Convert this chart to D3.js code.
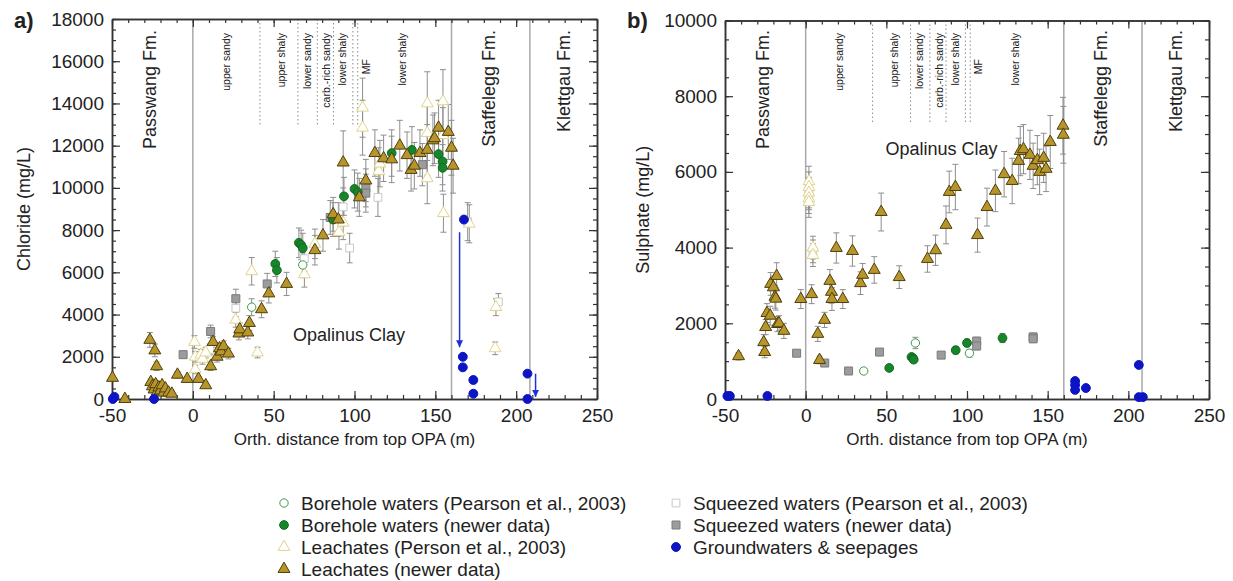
<!DOCTYPE html>
<html>
<head>
<meta charset="utf-8">
<script src="https://cdn.jsdelivr.net/npm/d3@7"></script>
<style>
  body { margin: 0; background: #fff; }
  text { font-family: Arial, "Liberation Sans", sans-serif; fill: #222; }
</style>
</head>
<body>
<svg id="chart" width="1233" height="581"></svg>
<script>
// ---- shared x layout (orth. distance from top OPA, m) ----
const xMajor = [-50, 0, 50, 100, 150, 200, 250]
const formationLines = [0, 160, 208.5]
const subUnitLines = [41.5, 65, 77, 87, 99, 102]
const subUnitLabels = ['upper sandy', 'upper shaly', 'lower sandy', 'carb.-rich sandy', 'lower shaly', 'MF', 'lower shaly']
const subUnitLabelX = [23, 57, 73, 85, 95, 109.5, 132]
const formationNames = ['Passwang Fm.', 'Staffelegg Fm.', 'Klettgau Fm.']
const formationNameX = [-23, 187, 233]

// ---- a) chloride, points as [x, value, error] ----
const chlLeachNew = [
  [-49.7, 1000, 0], [-42, 0, 0], [-26.6, 2800, 350], [-23.5, 2300, 300], [-22.4, 1550, 200],
  [-26, 800, 150], [-25, 600, 100], [-24, 450, 100], [-23, 700, 100], [-22, 350, 100],
  [-21, 550, 100], [-20, 400, 80], [-19, 650, 100], [-18, 300, 80], [-17, 500, 80],
  [-15, 300, 80], [-13, 250, 60], [-9.5, 1150, 150], [-3.5, 950, 100], [3.5, 950, 120],
  [8, 650, 100], [11, 1550, 200], [12.5, 2700, 250], [15, 2000, 250], [16.5, 2400, 250],
  [17.5, 2250, 250], [19, 2500, 250], [22, 2150, 250], [28.5, 3100, 300], [29, 3300, 300],
  [34, 3150, 300], [35, 3600, 350], [42.5, 4250, 400], [47, 5000, 450], [58, 5450, 550],
  [75.5, 7050, 700], [80.5, 7750, 750], [86.8, 8750, 800], [90, 8500, 800], [93, 11200, 1500],
  [103, 9550, 900], [107, 10350, 1000], [112.6, 11650, 1100], [118, 11400, 1100], [123, 11350, 1100],
  [128, 12000, 1200], [132.5, 11550, 1100], [135, 10850, 1000], [137, 11050, 1100], [140.5, 11650, 1100],
  [145, 11800, 1200], [148.5, 12250, 1200], [149.5, 12350, 1200], [152, 12850, 1300], [158, 12650, 1300],
  [160, 11900, 1300], [161, 11050, 1300]
]
const chlLeachOld = [
  [1, 2700, 300], [1.5, 2000, 250], [1.5, 1400, 200], [5, 2100, 250], [6, 1900, 250], [8, 2200, 250],
  [26.5, 3750, 350], [36.4, 6050, 650], [40, 2200, 250], [69, 5900, 600], [75.5, 7350, 700],
  [90.4, 7900, 800], [93, 8350, 800], [105, 13800, 1400], [105, 12850, 1300], [115, 10800, 1100],
  [115.7, 11150, 1100], [145, 14000, 1500], [145, 12600, 1300], [145, 10450, 1200], [154.7, 14100, 1500],
  [154.7, 12500, 1300], [155, 8800, 900], [171, 8300, 900], [187.5, 4350, 400], [187, 2400, 300]
]
const chlBoreOld = [[36.4, 4350, 400], [68, 6350, 600]]
const chlBoreNew = [
  [51, 6400, 600], [52, 6100, 600], [65.6, 7400, 700], [67, 7300, 700], [68, 7150, 700],
  [86.7, 8500, 800], [93.5, 9600, 900], [100, 9950, 900], [102, 9800, 900], [123, 11650, 1100],
  [135.5, 11800, 1100], [152, 11600, 1100], [154.5, 11250, 1100], [154.5, 10950, 1100]
]
const chlSqueezeNew = [
  [-6, 2100, 0], [11, 3200, 300], [26.6, 4750, 450], [46, 5450, 500], [85, 8600, 800],
  [107, 10000, 900], [107, 9750, 900], [142, 11100, 1000]
]
const chlSqueezeOld = [
  [10.5, 2350, 250], [26.6, 4300, 400], [69, 6650, 600], [93, 9100, 900], [97, 7150, 700],
  [114.5, 9550, 900], [170, 8400, 900], [189, 4600, 400]
]
const chlGround = [
  [-49.5, 0], [-48.5, 100], [-24, 0], [167.7, 8500], [167, 2000], [167, 1500],
  [173.5, 900], [173.5, 250], [207, 1200], [207, 0]
]
const chlArrows = [[165, 7900, 2450], [212, 1200, 100]]

// ---- b) sulphate, points as [x, value, error] ----
const sulLeachNew = [
  [-41.6, 1130, 100], [-26, 1500, 200], [-25.4, 1240, 150], [-24.8, 1900, 200], [-24, 2270, 250],
  [-22, 2200, 250], [-21.7, 3040, 300], [-20, 2950, 300], [-19, 2700, 300], [-18.5, 2650, 300],
  [-18, 3250, 350], [-17.5, 1980, 200], [-16.5, 2000, 200], [-13.5, 1800, 200], [-3, 2640, 250],
  [3.7, 2770, 250], [7.5, 1720, 200], [8.6, 1030, 100], [11.7, 2090, 200], [15, 3120, 300],
  [16, 2830, 300], [16.3, 2640, 300], [19, 3990, 400], [23, 2640, 250], [29, 3910, 400],
  [34, 3060, 300], [35.3, 3280, 300], [42.5, 3410, 350], [46.8, 4940, 500], [58, 3220, 300],
  [75.5, 3700, 350], [80.5, 3930, 400], [87, 4600, 500], [89, 5470, 550], [92.8, 5600, 600],
  [106.5, 4330, 450], [112.4, 5070, 500], [117.6, 5500, 550], [123, 5940, 600], [128, 5760, 600],
  [132, 6290, 600], [133, 6550, 650], [135, 6600, 650], [139, 6450, 650], [141, 6160, 600],
  [143.6, 6310, 650], [145, 6000, 600], [147.5, 6370, 650], [149, 6080, 600], [151.6, 6790, 700],
  [159.5, 7220, 750], [159.7, 6980, 750]
]
const sulLeachOld = [
  [2, 5750, 400], [2, 5600, 400], [2, 5450, 400], [2, 5300, 400], [2, 5200, 400],
  [4.5, 4000, 300], [4.5, 3800, 300]
]
const sulBoreOld = [[36, 740, 0], [68, 1480, 150], [101.5, 1210, 100]]
const sulBoreNew = [
  [51.8, 820, 0], [65.6, 1110, 60], [66.5, 1080, 60], [67, 1040, 60], [93, 1290, 100],
  [100, 1480, 100], [122, 1610, 120]
]
const sulSqueezeNew = [
  [-5.6, 1210, 50], [11.8, 950, 50], [26.6, 740, 0], [45.8, 1240, 60], [84, 1160, 60],
  [106, 1530, 100], [106, 1400, 100], [141, 1640, 100], [141, 1590, 100]
]
const sulSqueezeOld = [[2, 5400, 400], [4.5, 3900, 300]]
const sulGround = [
  [-48.5, 80], [-47, 80], [-23.7, 80], [167, 475], [167, 370], [167, 240],
  [173.7, 290], [206.5, 900], [206.5, 50], [209, 50]
]

// ---- legend ----
const legendLabels = [
  'Borehole waters (Pearson et al., 2003)', 'Borehole waters (newer data)',
  'Leachates (Person et al., 2003)', 'Leachates (newer data)',
  'Squeezed waters (Pearson et al., 2003)', 'Squeezed waters (newer data)',
  'Groundwaters & seepages'
]

// marker styles, keyed by series kind
const styles = {
  squeezeOld: { shape: d3.symbolSquare, size: 60, fill: '#fff', stroke: '#c8c8c8' },
  leachOld: { shape: d3.symbolTriangle, size: 60, fill: '#fff', stroke: '#e2d48a' },
  squeezeNew: { shape: d3.symbolSquare, size: 64, fill: '#9c9c9c', stroke: '#7a7a7a' },
  boreOld: { shape: d3.symbolCircle, size: 55, fill: '#fff', stroke: '#3c9a4c' },
  boreNew: { shape: d3.symbolCircle, size: 60, fill: '#17852a', stroke: '#0f6a1e' },
  leachNew: { shape: d3.symbolTriangle, size: 62, fill: '#b7952a', stroke: '#4e3f0c' },
  ground: { shape: d3.symbolCircle, size: 62, fill: '#0c14c4', stroke: '#0c14c4' }
}

const svg = d3.select('#chart')

svg.append('defs').append('marker')
  .attr('id', 'arrowhead')
  .attr('viewBox', '0 0 10 10')
  .attr('refX', 10).attr('refY', 5)
  .attr('markerWidth', 7).attr('markerHeight', 10)
  .attr('markerUnits', 'userSpaceOnUse')
  .attr('orient', 'auto')
  .append('path').attr('d', 'M0,0 L10,5 L0,10 z').attr('fill', '#2030d8')

function drawPanel (p) {
  const x = d3.scaleLinear().domain([-50, 250]).range(p.xr)
  const y = d3.scaleLinear().domain([0, p.ymax]).range([399, p.top])
  const g = svg.append('g')
  const y0 = y(0)
  const yT = y(p.ymax)

  // formation boundaries (solid) and sub-unit boundaries (dotted)
  g.selectAll('.fline').data(formationLines).join('line')
    .attr('x1', d => x(d)).attr('x2', d => x(d))
    .attr('y1', yT).attr('y2', y0)
    .attr('stroke', '#a8a8a8').attr('stroke-width', 1.5)

  g.selectAll('.sline').data(subUnitLines).join('line')
    .attr('x1', d => x(d)).attr('x2', d => x(d))
    .attr('y1', yT).attr('y2', y(p.dotEnd))
    .attr('stroke', '#8c8c8c').attr('stroke-width', 1)
    .attr('stroke-dasharray', '1.5,2.5')

  g.selectAll('.slab').data(subUnitLabels).join('text')
    .attr('transform', (d, i) => `translate(${x(subUnitLabelX[i])},${d === 'MF' ? 59 : 33}) rotate(-90)`)
    .attr('text-anchor', 'end')
    .style('font-size', '10.5px')
    .text(d => d)

  g.selectAll('.flab').data(formationNames).join('text')
    .attr('transform', (d, i) => `translate(${x(formationNameX[i])},30) rotate(-90)`)
    .attr('text-anchor', 'end')
    .style('font-size', '18px')
    .text(d => d)

  g.append('text')
    .attr('x', x(p.opaPos[0])).attr('y', y(p.opaPos[1]))
    .style('font-size', '18px')
    .text('Opalinus Clay')

  // axes: ticks point inward on all four sides
  const yMajor = d3.range(0, p.ymax + 1, 2000)
  const yMinor = d3.range(0, p.ymax + 1, 500)
  const xMinor = d3.range(-50, 251, 10)
  const noLab = () => ''

  const axes = [
    [d3.axisBottom(x).tickValues(xMajor).tickSize(-8).tickPadding(10).tickFormat(d => String(d)), `translate(0,${y0})`],
    [d3.axisBottom(x).tickValues(xMinor).tickSize(-4).tickFormat(noLab), `translate(0,${y0})`],
    [d3.axisTop(x).tickValues(xMajor).tickSize(-8).tickFormat(noLab), `translate(0,${yT})`],
    [d3.axisTop(x).tickValues(xMinor).tickSize(-4).tickFormat(noLab), `translate(0,${yT})`],
    [d3.axisLeft(y).tickValues(yMajor).tickSize(-8).tickPadding(8).tickFormat(d => String(d)), `translate(${x(-50)},0)`],
    [d3.axisLeft(y).tickValues(yMinor).tickSize(-4).tickFormat(noLab), `translate(${x(-50)},0)`],
    [d3.axisRight(y).tickValues(yMajor).tickSize(-8).tickFormat(noLab), `translate(${x(250)},0)`],
    [d3.axisRight(y).tickValues(yMinor).tickSize(-4).tickFormat(noLab), `translate(${x(250)},0)`]
  ]
  axes.forEach(([ax, tr]) => {
    const a = g.append('g').attr('transform', tr).call(ax.tickSizeOuter(0))
    a.select('.domain').attr('stroke', '#333').attr('stroke-width', 1.5)
    a.selectAll('.tick line').attr('stroke', '#333').attr('stroke-width', 1.2)
    a.selectAll('.tick text').style('font-size', '19px').style('font-family', 'Arial, "Liberation Sans", sans-serif').attr('fill', '#222')
  })

  // axis titles and panel letter
  g.append('text')
    .attr('x', (p.xr[0] + p.xr[1]) / 2).attr('y', 445)
    .attr('text-anchor', 'middle').style('font-size', '17px')
    .text('Orth. distance from top OPA (m)')
  g.append('text')
    .attr('transform', `translate(${p.titleX},${(y0 + yT) / 2}) rotate(-90)`)
    .attr('text-anchor', 'middle').style('font-size', '18px')
    .text(p.yTitle)
  g.append('text')
    .attr('x', p.letterX).attr('y', 28)
    .style('font-size', '22px').style('font-weight', 'bold')
    .text(p.letter)

  // error bars
  const withErr = p.series.flatMap(s => s.data.filter(d => d[2] > 0))
  const eb = g.append('g').attr('stroke', '#8e8e8e').attr('stroke-width', 1)
  eb.selectAll('.ev').data(withErr).join('line')
    .attr('x1', d => x(d[0])).attr('x2', d => x(d[0]))
    .attr('y1', d => y(d[1] - d[2])).attr('y2', d => y(Math.min(d[1] + d[2], p.ymax)))
  eb.selectAll('.et').data(withErr).join('line')
    .attr('x1', d => x(d[0]) - 3).attr('x2', d => x(d[0]) + 3)
    .attr('y1', d => y(d[1] + d[2])).attr('y2', d => y(d[1] + d[2]))
  eb.selectAll('.eb').data(withErr).join('line')
    .attr('x1', d => x(d[0]) - 3).attr('x2', d => x(d[0]) + 3)
    .attr('y1', d => y(d[1] - d[2])).attr('y2', d => y(d[1] - d[2]))

  // markers
  p.series.forEach(s => {
    const st = styles[s.kind]
    g.append('g').selectAll('path').data(s.data).join('path')
      .attr('d', d3.symbol(st.shape, st.size))
      .attr('transform', d => `translate(${x(d[0])},${y(d[1])})`)
      .attr('fill', st.fill).attr('stroke', st.stroke).attr('stroke-width', 1)
  })

  // blue arrows
  g.selectAll('.arr').data(p.arrows || []).join('line')
    .attr('x1', d => x(d[0])).attr('x2', d => x(d[0]))
    .attr('y1', d => y(d[1])).attr('y2', d => y(d[2]))
    .attr('stroke', '#2030d8').attr('stroke-width', 1.5)
    .attr('marker-end', 'url(#arrowhead)')
}

drawPanel({
  xr: [112, 597], ymax: 18000, top: 19, dotEnd: 13000,
  opaPos: [62, 2750], yTitle: 'Chloride (mg/L)', titleX: 30, letter: 'a)', letterX: 14,
  series: [
    { kind: 'squeezeOld', data: chlSqueezeOld },
    { kind: 'leachOld', data: chlLeachOld },
    { kind: 'squeezeNew', data: chlSqueezeNew },
    { kind: 'boreOld', data: chlBoreOld },
    { kind: 'boreNew', data: chlBoreNew },
    { kind: 'leachNew', data: chlLeachNew },
    { kind: 'ground', data: chlGround }
  ],
  arrows: chlArrows
})

drawPanel({
  xr: [725, 1209], ymax: 10000, top: 20.5, dotEnd: 7300,
  opaPos: [49.5, 6450], yTitle: 'Sulphate (mg/L)', titleX: 649, letter: 'b)', letterX: 627,
  series: [
    { kind: 'squeezeOld', data: sulSqueezeOld },
    { kind: 'leachOld', data: sulLeachOld },
    { kind: 'squeezeNew', data: sulSqueezeNew },
    { kind: 'boreOld', data: sulBoreOld },
    { kind: 'boreNew', data: sulBoreNew },
    { kind: 'leachNew', data: sulLeachNew },
    { kind: 'ground', data: sulGround }
  ]
})

// legend, two columns
const legendKinds = ['boreOld', 'boreNew', 'leachOld', 'leachNew', 'squeezeOld', 'squeezeNew', 'ground']
const leg = svg.append('g')
legendLabels.forEach((label, i) => {
  const col = i < 4 ? 0 : 1
  const row = i < 4 ? i : i - 4
  const mx = col === 0 ? 284 : 676
  const my = 503 + row * 22
  const st = styles[legendKinds[i]]
  leg.append('path')
    .attr('d', d3.symbol(st.shape, st.size))
    .attr('transform', `translate(${mx},${my})`)
    .attr('fill', st.fill).attr('stroke', st.stroke)
  leg.append('text')
    .attr('x', mx + 17).attr('y', my + 7)
    .style('font-size', '19px')
    .text(label)
})
</script>
</body>
</html>
